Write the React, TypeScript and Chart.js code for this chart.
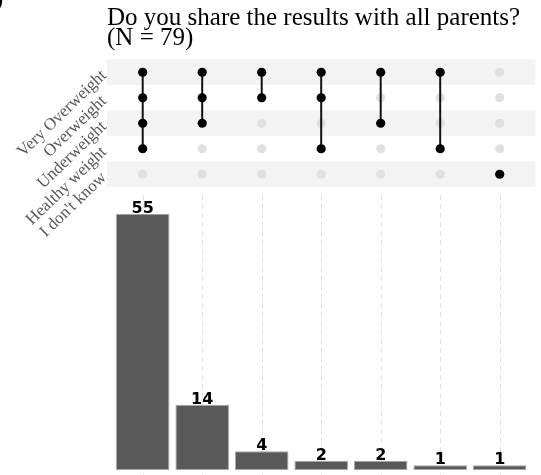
import React, { useEffect, useRef } from 'react';
import { Chart, registerables } from 'chart.js';

Chart.register(...registerables);

// ---- data ----
const titleLines = ['Do you share the results with all parents?', '(N = 79)'];
const cornerMark = ')';
const setNames = ['Very Overweight', 'Overweight', 'Underweight', 'Healthy weight', "I don't know"];
const intersectionCounts = [55, 14, 4, 2, 2, 1, 1];
const intersectionMembers = [[0, 1, 2, 3], [0, 1, 2], [0, 1], [0, 1, 3], [0, 2], [0, 3], [4]];

// ---- layout constants ----
const W = 541;
const H = 475;
const X_MIN = -0.6;
const X_MAX = 6.6;
const PAD_LEFT = 107;
const PAD_RIGHT = 5.6;
const MATRIX_TOP = 59.5;
const MATRIX_BOTTOM = 187;
const BAR_TOP = 195;

const activePoints: { x: number; y: number }[] = [];
const inactivePoints: { x: number; y: number }[] = [];
intersectionMembers.forEach((members, i) => {
  setNames.forEach((_, r) => {
    if (members.includes(r)) activePoints.push({ x: i, y: r });
    else inactivePoints.push({ x: i, y: r });
  });
});

const matrixPlugin = {
  id: 'matrixDecor',
  beforeDatasetsDraw(chart: any) {
    const { ctx, chartArea, scales } = chart;
    const ys = scales.y;
    ctx.save();
    ctx.fillStyle = '#f3f3f3';
    setNames.forEach((_, r) => {
      if (r % 2 !== 0) return;
      const y0 = ys.getPixelForValue(r - 0.5);
      const y1 = ys.getPixelForValue(r + 0.5);
      ctx.fillRect(chartArea.left, Math.min(y0, y1), chartArea.right - chartArea.left, Math.abs(y1 - y0));
    });
    ctx.restore();
  },
  afterDraw(chart: any) {
    const { ctx, chartArea, scales } = chart;
    const ys = scales.y;
    ctx.save();
    // title
    ctx.fillStyle = '#000';
    ctx.font = '25px "Liberation Serif"';
    ctx.textAlign = 'left';
    ctx.textBaseline = 'alphabetic';
    ctx.fillText(titleLines[0], chartArea.left, 25);
    ctx.fillText(titleLines[1], chartArea.left, 44.5);
    ctx.fillText(cornerMark, -5, 6);
    // row labels
    ctx.fillStyle = '#595959';
    ctx.font = '17px "Liberation Serif"';
    ctx.textAlign = 'right';
    ctx.textBaseline = 'middle';
    setNames.forEach((name, r) => {
      const y = ys.getPixelForValue(r);
      ctx.save();
      ctx.translate(chartArea.left - 3, y + 1);
      ctx.rotate((-44 * Math.PI) / 180);
      ctx.fillText(name, 0, 0);
      ctx.restore();
    });
    ctx.restore();
  },
};

const barPlugin = {
  id: 'barDecor',
  beforeDatasetsDraw(chart: any) {
    const { ctx, chartArea, scales } = chart;
    ctx.save();
    ctx.strokeStyle = '#e0e0e0';
    ctx.lineWidth = 1;
    ctx.setLineDash([5, 4]);
    intersectionCounts.forEach((_, i) => {
      const x = Math.round(scales.x.getPixelForValue(i)) + 0.5;
      ctx.beginPath();
      ctx.moveTo(x, chartArea.top);
      ctx.lineTo(x, chartArea.bottom);
      ctx.stroke();
    });
    ctx.restore();
  },
  afterDatasetsDraw(chart: any) {
    const { ctx } = chart;
    const meta = chart.getDatasetMeta(0);
    ctx.save();
    ctx.fillStyle = '#000';
    ctx.font = 'bold 16px "DejaVu Sans"';
    ctx.textAlign = 'center';
    ctx.textBaseline = 'alphabetic';
    meta.data.forEach((bar: any, i: number) => {
      ctx.fillText(String(intersectionCounts[i]), bar.x, bar.y - 1);
    });
    ctx.restore();
  },
};

export default function App() {
  const matrixRef = useRef<HTMLCanvasElement | null>(null);
  const barRef = useRef<HTMLCanvasElement | null>(null);

  useEffect(() => {
    const lineDatasets = intersectionMembers
      .map((members, i) => ({ members, i }))
      .filter(({ members }) => members.length > 1)
      .map(({ members, i }) => ({
        type: 'line' as const,
        data: [
          { x: i, y: Math.min(...members) },
          { x: i, y: Math.max(...members) },
        ],
        showLine: true,
        borderColor: '#111',
        borderWidth: 2,
        pointRadius: 0,
        order: 1,
      }));

    const xScale = {
      type: 'linear',
      min: X_MIN,
      max: X_MAX,
      offset: false,
      display: false,
      ticks: { stepSize: 1, includeBounds: false },
    };

    const matrix = new Chart(matrixRef.current as HTMLCanvasElement, {
      type: 'scatter',
      data: {
        datasets: [
          {
            data: activePoints,
            backgroundColor: '#000',
            borderColor: '#000',
            borderWidth: 0,
            pointRadius: 4.6,
            order: 0,
          } as any,
          ...lineDatasets,
          {
            data: inactivePoints,
            backgroundColor: '#e0e0e0',
            borderColor: '#e0e0e0',
            borderWidth: 0,
            pointRadius: 4.6,
            order: 2,
          } as any,
        ],
      },
      options: {
        animation: false,
        responsive: false,
        devicePixelRatio: 1,
        events: [],
        layout: {
          autoPadding: false,
          padding: { left: PAD_LEFT, right: PAD_RIGHT, top: MATRIX_TOP, bottom: H - MATRIX_BOTTOM },
        },
        scales: {
          x: { ...xScale },
          y: { type: 'linear', min: -0.5, max: setNames.length - 0.5, reverse: true, display: false },
        },
        plugins: { legend: { display: false }, tooltip: { enabled: false } },
      } as any,
      plugins: [matrixPlugin],
    });

    const bars = new Chart(barRef.current as HTMLCanvasElement, {
      type: 'bar',
      data: {
        datasets: [
          {
            data: intersectionCounts.map((v, i) => ({ x: i, y: v })),
            backgroundColor: '#595959',
            borderColor: '#a8a8a8',
            borderWidth: 1,
            borderSkipped: false,
            barPercentage: 0.9,
            categoryPercentage: 1,
          } as any,
        ],
      },
      options: {
        animation: false,
        responsive: false,
        devicePixelRatio: 1,
        events: [],
        layout: {
          autoPadding: false,
          padding: { left: PAD_LEFT, right: PAD_RIGHT, top: BAR_TOP, bottom: 0 },
        },
        scales: {
          x: { ...xScale },
          y: { type: 'linear', min: -1.07, max: 59, display: false },
        },
        plugins: { legend: { display: false }, tooltip: { enabled: false } },
      } as any,
      plugins: [barPlugin],
    });

    return () => {
      matrix.destroy();
      bars.destroy();
    };
  }, []);

  return (
    <div style={{ position: 'absolute', left: 0, top: 0, width: W, height: H, background: '#fff' }}>
      <canvas ref={matrixRef} width={W} height={H} style={{ position: 'absolute', left: 0, top: 0, width: W, height: H }} />
      <canvas ref={barRef} width={W} height={H} style={{ position: 'absolute', left: 0, top: 0, width: W, height: H, pointerEvents: 'none' }} />
    </div>
  );
}
